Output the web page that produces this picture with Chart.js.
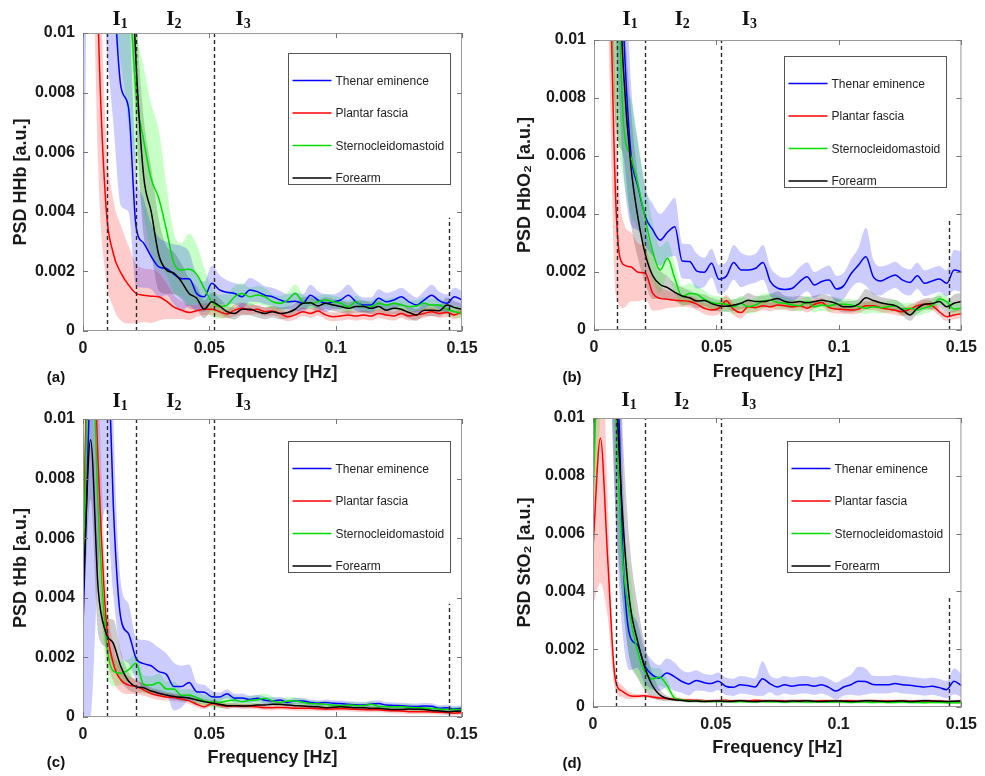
<!DOCTYPE html>
<html><head><meta charset="utf-8">
<script src="https://cdn.jsdelivr.net/npm/chart.js@4.4.1/dist/chart.umd.min.js"></script>
<style>
html,body{margin:0;padding:0;background:#fff;}
body{width:985px;height:776px;position:relative;overflow:hidden;}
canvas{position:absolute;}
</style></head><body>
<canvas id="pa" width="490" height="385" style="left:0;top:0"></canvas>
<canvas id="pb" width="495" height="385" style="left:490px;top:0"></canvas>
<canvas id="pc" width="490" height="391" style="left:0;top:385px"></canvas>
<canvas id="pd" width="495" height="391" style="left:490px;top:385px"></canvas>
<script>
// ---------- data (PSD values in units of 1e-3 a.u.) ----------
const UNIT = 1e-3;
const FREQ = [0,0.003,0.006,0.009,0.012,0.015,0.018,0.021,0.024,0.027,0.03,0.033,0.036,0.039,0.042,0.045,0.048,0.051,0.054,0.057,0.06,0.063,0.066,0.069,0.072,0.075,0.078,0.081,0.084,0.087,0.09,0.093,0.096,0.099,0.102,0.105,0.108,0.111,0.114,0.117,0.12,0.123,0.126,0.129,0.132,0.135,0.138,0.141,0.144,0.147,0.15];
const SERIES = ['Thenar eminence','Plantar fascia','Sternocleidomastoid','Forearm'];
const X_TICKS = [0,0.05,0.1,0.15];
const Y_TICKS = [0,0.002,0.004,0.006,0.008,0.01];
const VLINES = [0.0095,0.021,0.052,0.145];
const VLINE_TOP = [10,10,10,3.8];
const INTERVAL_NUM = ['1','2','3'];
const INTERVAL_FREQ = [0.0133,0.0346,0.062];

// (a) HHb
const HHB_THENAR = [20,40,30,18,12,8.2,7.5,3.5,2.95,2.5, 2.15,2.1,1.9,1.75,1.75,1.26,1.15,1.6,1.38,1.3, 1.26,1.15,1.38,1.32,1.2,1.15,1.04,0.98,1.0,0.93, 1.2,1.04,0.93,0.98,1.04,1.2,0.98,0.87,0.87,1.1, 0.98,1.04,1.15,0.98,0.87,1.04,1.2,1.02,0.93,1.15,1.04];
const HHB_THENAR_SD = [20,20,15,8,5,4,3.5,2,1.5,1.1, 1.0,0.9,1.0,1.1,0.9,0.6,0.5,0.6,0.5,0.4, 0.35,0.4,0.4,0.35,0.3,0.3,0.3,0.25,0.3,0.3, 0.35,0.3,0.3,0.25,0.3,0.35,0.3,0.25,0.25,0.3, 0.3,0.3,0.3,0.3,0.25,0.3,0.35,0.3,0.3,0.3,0.3];
const HHB_PLANTAR = [40,25,10.5,4.3,2.6,1.95,1.55,1.26,1.2,1.17, 1.15,1.0,0.8,0.7,0.62,0.68,0.73,0.73,0.65,0.57, 0.7,0.76,0.7,0.73,0.65,0.67,0.59,0.48,0.54,0.65, 0.59,0.67,0.54,0.48,0.5,0.54,0.5,0.54,0.5,0.59, 0.54,0.5,0.59,0.5,0.54,0.59,0.65,0.59,0.62,0.54,0.65];
const HHB_PLANTAR_SD = [10,8,5,2.5,1.8,1.6,1.3,1.0,0.9,0.9, 0.8,0.6,0.4,0.3,0.25,0.2,0.2,0.2,0.2,0.15, 0.2,0.2,0.15,0.15,0.15,0.15,0.15,0.15,0.15,0.15, 0.15,0.15,0.15,0.15,0.15,0.15,0.15,0.15,0.15,0.15, 0.15,0.15,0.15,0.15,0.15,0.15,0.15,0.15,0.15,0.15,0.15];
const HHB_STERNO = [30,30,25,20,18,15,12,8.0,6.4,5.1, 4.45,3.4,2.27,2.05,2.07,1.9,1.43,0.98,0.82,0.87, 1.15,1.26,1.15,1.21,1.15,0.98,0.93,1.04,1.26,0.98, 0.93,0.98,1.04,0.98,0.93,0.82,0.98,0.82,0.82,0.93, 0.87,0.93,0.87,0.82,0.84,0.93,0.87,0.87,0.73,0.65,0.59];
const HHB_STERNO_SD = [20,20,15,10,8,6,5,2.5,2.5,2.5, 2.3,1.5,1.0,0.9,1.2,1.0,0.7,0.5,0.4,0.4, 0.35,0.35,0.3,0.3,0.3,0.25,0.25,0.25,0.3,0.25, 0.2,0.2,0.2,0.2,0.2,0.2,0.2,0.2,0.2,0.2, 0.2,0.2,0.2,0.2,0.2,0.2,0.2,0.2,0.2,0.2,0.2];
const HHB_FOREARM = [30,30,28,25,22,18,15,9.0,5.2,4.0, 2.55,2.05,1.94,1.65,1.26,1.1,0.73,0.98,0.84,0.65, 0.59,0.73,0.73,0.65,0.59,0.65,0.59,0.62,0.73,0.93, 0.95,0.84,0.93,0.87,0.82,0.76,0.82,0.82,0.76,0.82, 0.7,0.76,0.73,0.62,0.54,0.7,0.7,0.68,0.87,0.79,0.73];
const HHB_FOREARM_SD = [15,15,12,10,8,6,4,2.0,2.0,1.5, 1.2,0.8,0.7,0.6,0.5,0.4,0.3,0.3,0.25,0.2, 0.2,0.2,0.2,0.2,0.2,0.2,0.2,0.2,0.2,0.2, 0.2,0.2,0.2,0.2,0.2,0.2,0.2,0.2,0.2,0.2, 0.2,0.2,0.2,0.2,0.2,0.2,0.2,0.2,0.25,0.2,0.2];

// (b) HbO2
const HBO2_THENAR = [40,40,30,18,10.5,6.15,4.94,3.9,3.45,3.1, 3.37,3.56,2.38,2.36,2.03,1.99,2.3,1.75,1.85,2.33, 2.07,2.07,2.13,2.33,1.67,1.44,1.4,1.44,1.67,1.84, 1.55,1.67,1.72,1.41,1.53,1.95,2.24,2.53,1.84,1.69, 1.8,1.9,1.72,1.64,1.87,1.61,1.69,1.76,1.61,2.07,2.01];
const HBO2_THENAR_SD = [20,20,15,8,5,2.5,1.5,1.0,0.9,0.9, 0.9,1.0,0.6,0.6,0.6,0.5,0.5,0.5,0.5,0.6, 0.6,0.5,0.5,0.6,0.5,0.45,0.4,0.45,0.5,0.5, 0.45,0.45,0.5,0.45,0.45,0.5,0.6,1.0,0.6,0.5, 0.45,0.45,0.45,0.45,0.45,0.45,0.45,0.45,0.45,0.7,0.7];
const HBO2_PLANTAR = [40,30,15,4.2,2.26,2.18,1.99,1.95,1.26,1.09, 1.06,1.03,1.01,0.98,0.89,0.75,0.69,0.75,1.01,0.71, 0.6,0.8,0.77,0.84,0.8,0.86,0.84,0.8,0.84,0.75, 0.89,0.95,0.77,0.72,0.71,0.69,0.72,0.84,0.84,0.77, 0.72,0.68,0.63,0.72,0.84,0.89,0.84,0.63,0.46,0.52,0.56];
const HBO2_PLANTAR_SD = [10,8,5,3,1.5,1.2,1.0,0.9,0.6,0.4, 0.3,0.25,0.2,0.2,0.2,0.2,0.2,0.2,0.2,0.2, 0.2,0.2,0.15,0.15,0.15,0.15,0.15,0.15,0.15,0.15, 0.15,0.15,0.15,0.15,0.15,0.15,0.15,0.15,0.15,0.15, 0.15,0.15,0.15,0.15,0.15,0.15,0.15,0.15,0.15,0.15,0.15];
const HBO2_STERNO = [30,30,25,15,7.2,6.0,5.0,3.8,2.7,2.07, 2.47,1.78,1.15,1.26,1.23,1.06,0.95,0.91,0.89,0.8, 0.92,0.8,0.86,1.0,1.03,0.95,0.92,0.86,0.84,0.98, 0.8,0.86,0.83,0.89,0.89,0.86,0.8,0.75,0.8,0.77, 0.8,0.84,0.72,0.75,0.69,0.77,0.84,1.07,0.98,0.72,0.75];
const HBO2_STERNO_SD = [20,20,15,8,2,2,1.5,1.2,1.0,0.8, 0.6,0.5,0.35,0.35,0.3,0.3,0.25,0.25,0.25,0.25, 0.25,0.25,0.25,0.25,0.25,0.25,0.2,0.2,0.2,0.2, 0.2,0.2,0.2,0.2,0.2,0.2,0.2,0.2,0.2,0.2, 0.2,0.2,0.2,0.2,0.2,0.2,0.2,0.2,0.2,0.2,0.2];
const HBO2_FOREARM = [30,30,25,15,9.0,5.7,3.85,2.59,1.87,1.57, 1.46,1.3,1.17,1.11,1.0,1.02,0.91,0.84,0.82,0.86, 0.92,1.03,0.98,0.98,1.03,1.09,0.98,0.95,0.98,0.94, 0.98,1.03,0.98,0.91,0.8,0.8,0.89,1.11,1.02,0.94, 0.89,0.84,0.69,0.52,0.75,0.89,0.91,0.98,0.8,0.92,0.98];
const HBO2_FOREARM_SD = [15,15,12,8,3,2,1.4,1.0,0.8,0.5, 0.4,0.3,0.3,0.25,0.25,0.2,0.2,0.2,0.2,0.2, 0.2,0.25,0.2,0.2,0.2,0.25,0.2,0.2,0.2,0.2, 0.2,0.2,0.2,0.2,0.2,0.2,0.2,0.3,0.25,0.2, 0.2,0.2,0.2,0.2,0.2,0.2,0.2,0.2,0.2,0.3,0.3];

// (c) tHb
const THB_THENAR = [3,12,20,15,7.1,3.3,2.8,1.97,1.79,1.72, 1.52,1.43,1.02,1.02,1.16,0.85,0.83,0.68,0.67,0.78, 0.63,0.64,0.59,0.63,0.56,0.54,0.57,0.49,0.54,0.54, 0.49,0.46,0.49,0.46,0.45,0.43,0.41,0.4,0.44,0.45, 0.4,0.39,0.38,0.36,0.35,0.37,0.36,0.29,0.31,0.27,0.29];
const THB_THENAR_SD = [3,12,15,8,3,1.2,1.0,0.7,0.8,0.8, 0.8,0.7,0.8,0.7,0.6,0.3,0.25,0.2,0.15,0.15, 0.15,0.15,0.12,0.12,0.12,0.12,0.1,0.1,0.1,0.1, 0.1,0.1,0.1,0.1,0.1,0.1,0.1,0.1,0.1,0.1, 0.1,0.1,0.1,0.1,0.1,0.1,0.1,0.1,0.1,0.1,0.1];
const THB_PLANTAR = [5.4,15,8.5,3.4,1.8,1.24,1.07,1.02,0.91,0.79, 0.72,0.67,0.65,0.6,0.54,0.43,0.34,0.45,0.4,0.36, 0.38,0.36,0.36,0.34,0.31,0.31,0.32,0.31,0.29,0.29, 0.29,0.28,0.27,0.27,0.28,0.27,0.26,0.25,0.24,0.24, 0.22,0.21,0.2,0.18,0.18,0.18,0.17,0.16,0.15,0.13,0.15];
const THB_PLANTAR_SD = [1,3,3,1.2,0.6,0.4,0.3,0.25,0.2,0.15, 0.15,0.12,0.12,0.1,0.1,0.1,0.08,0.08,0.08,0.08, 0.08,0.08,0.08,0.08,0.08,0.08,0.08,0.08,0.08,0.08, 0.08,0.08,0.08,0.08,0.08,0.08,0.08,0.08,0.08,0.08, 0.08,0.08,0.08,0.08,0.08,0.08,0.08,0.08,0.08,0.08,0.08];
const THB_STERNO = [4.2,14,7.0,2.75,1.54,1.47,1.58,1.8,1.1,1.07, 1.16,0.94,0.94,0.72,0.74,0.65,0.54,0.51,0.49,0.54, 0.57,0.51,0.56,0.58,0.63,0.54,0.49,0.54,0.54,0.49, 0.45,0.44,0.43,0.4,0.38,0.4,0.39,0.38,0.43,0.36, 0.35,0.34,0.34,0.33,0.31,0.3,0.29,0.27,0.25,0.25,0.25];
const THB_STERNO_SD = [1.5,3,2,1.0,0.5,0.4,0.35,0.3,0.3,0.3, 0.3,0.25,0.25,0.2,0.2,0.2,0.2,0.2,0.2,0.2, 0.15,0.15,0.15,0.15,0.15,0.15,0.12,0.12,0.12,0.12, 0.1,0.1,0.1,0.1,0.1,0.1,0.1,0.1,0.1,0.1, 0.1,0.1,0.1,0.1,0.1,0.1,0.1,0.1,0.1,0.1,0.1];
const THB_FOREARM = [4.0,9.3,4.3,2.84,2.47,1.69,1.21,1.02,0.98,0.87, 0.8,0.74,0.69,0.66,0.64,0.57,0.51,0.47,0.43,0.38, 0.38,0.37,0.38,0.4,0.4,0.43,0.43,0.4,0.38,0.37, 0.35,0.34,0.31,0.33,0.34,0.33,0.31,0.31,0.29,0.29, 0.27,0.25,0.25,0.27,0.26,0.25,0.22,0.2,0.18,0.19,0.2];
const THB_FOREARM_SD = [1.5,2,1.5,0.5,0.8,0.5,0.3,0.2,0.15,0.12, 0.12,0.1,0.1,0.1,0.1,0.1,0.1,0.1,0.1,0.1, 0.08,0.08,0.08,0.08,0.08,0.08,0.08,0.08,0.08,0.08, 0.08,0.08,0.08,0.08,0.08,0.08,0.08,0.08,0.08,0.08, 0.08,0.08,0.08,0.08,0.08,0.08,0.08,0.08,0.08,0.08,0.08];

// (d) StO2
const STO2_THENAR = [30,40,30,15,5.6,2.47,2.16,1.43,1.12,1.0, 1.18,1.06,0.89,0.8,0.92,0.85,0.81,0.89,0.72,0.68, 0.77,0.74,0.69,0.98,0.81,0.69,0.77,0.72,0.76,0.77, 0.72,0.77,0.68,0.55,0.69,0.77,0.89,0.88,0.78,0.77, 0.77,0.81,0.77,0.75,0.72,0.69,0.72,0.67,0.6,0.89,0.74];
const STO2_THENAR_SD = [10,20,15,8,3,1.2,0.8,0.6,0.5,0.45, 0.5,0.5,0.4,0.4,0.35,0.3,0.3,0.3,0.3,0.3, 0.3,0.3,0.3,0.6,0.3,0.3,0.3,0.3,0.3,0.3, 0.3,0.3,0.3,0.3,0.3,0.35,0.5,0.45,0.3,0.3, 0.3,0.3,0.3,0.3,0.3,0.3,0.3,0.3,0.3,0.45,0.4];
const STO2_PLANTAR = [5.5,9.3,5.1,1.0,0.54,0.39,0.37,0.39,0.35,0.31, 0.29,0.28,0.25,0.24,0.23,0.22,0.21,0.22,0.23,0.21, 0.22,0.21,0.23,0.22,0.21,0.22,0.21,0.2,0.22,0.21, 0.2,0.22,0.21,0.2,0.21,0.22,0.2,0.21,0.22,0.2, 0.21,0.2,0.21,0.2,0.2,0.21,0.19,0.2,0.18,0.17,0.17];
const STO2_PLANTAR_SD = [2,5,2,0.4,0.2,0.12,0.08,0.08,0.06,0.05, 0.05,0.05,0.05,0.05,0.05,0.05,0.05,0.05,0.05,0.05, 0.05,0.05,0.05,0.05,0.05,0.05,0.05,0.05,0.05,0.05, 0.05,0.05,0.05,0.05,0.05,0.05,0.05,0.05,0.05,0.05, 0.05,0.05,0.05,0.05,0.05,0.05,0.05,0.05,0.05,0.05,0.05];
const STO2_STERNO = [7.2,15,20,11,5.2,3.2,1.98,1.23,0.97,1.04, 0.77,0.33,0.25,0.22,0.21,0.2,0.19,0.19,0.2,0.18, 0.19,0.18,0.18,0.19,0.18,0.18,0.17,0.18,0.18,0.17, 0.17,0.18,0.17,0.17,0.17,0.16,0.17,0.17,0.16,0.17, 0.16,0.16,0.17,0.16,0.16,0.15,0.16,0.16,0.15,0.15,0.15];
const STO2_STERNO_SD = [1,5,5,3,1.5,1.5,0.9,0.6,0.4,0.3, 0.2,0.1,0.05,0.05,0.05,0.05,0.05,0.05,0.05,0.05, 0.05,0.05,0.05,0.05,0.05,0.05,0.05,0.05,0.05,0.05, 0.05,0.05,0.05,0.05,0.05,0.05,0.05,0.05,0.05,0.05, 0.05,0.05,0.05,0.05,0.05,0.05,0.05,0.05,0.05,0.05,0.05];
const STO2_FOREARM = [8.4,25,20,12,6.7,3.6,2.33,1.4,0.77,0.43, 0.3,0.25,0.23,0.2,0.21,0.19,0.2,0.21,0.19,0.2, 0.22,0.2,0.19,0.2,0.21,0.2,0.19,0.21,0.2,0.22, 0.2,0.19,0.2,0.21,0.2,0.19,0.2,0.22,0.21,0.2, 0.19,0.2,0.21,0.19,0.2,0.22,0.21,0.2,0.19,0.2,0.21];
const STO2_FOREARM_SD = [2,8,6,5,3,2,1.3,0.8,0.45,0.2, 0.1,0.05,0.05,0.05,0.05,0.05,0.05,0.05,0.05,0.05, 0.05,0.05,0.05,0.05,0.05,0.05,0.05,0.05,0.05,0.05, 0.05,0.05,0.05,0.05,0.05,0.05,0.05,0.05,0.05,0.05, 0.05,0.05,0.05,0.05,0.05,0.05,0.05,0.05,0.05,0.05,0.05];

// ---------- styles & layout ----------
const FONT = '"Liberation Sans", Arial, sans-serif';
const SERIF = '"Liberation Serif", "Times New Roman", serif';
const LINE_COLORS = ['#0000ff','#ff0000','#00dd00','#000000'];
const BAND_COLORS = ['rgba(0,0,255,0.2)','rgba(255,0,0,0.2)','rgba(0,255,0,0.22)','rgba(0,0,0,0.2)'];

const PANELS = [
  {canvas:'pa', ylabel:'PSD HHb [a.u.]', letter:'(a)',
   means:[HHB_THENAR,HHB_PLANTAR,HHB_STERNO,HHB_FOREARM], sds:[HHB_THENAR_SD,HHB_PLANTAR_SD,HHB_STERNO_SD,HHB_FOREARM_SD],
   pad:{top:33,right:28}, yW:83, xH:54, xTitlePad:1.2, yTitlePad:10.2, labelY:25, legend:{dx:12,dy:20}, letterPos:[56,378]},
  {canvas:'pb', ylabel:'PSD HbO\u2082 [a.u.]', letter:'(b)',
   means:[HBO2_THENAR,HBO2_PLANTAR,HBO2_STERNO,HBO2_FOREARM], sds:[HBO2_THENAR_SD,HBO2_PLANTAR_SD,HBO2_STERNO_SD,HBO2_FOREARM_SD],
   pad:{top:40,right:17}, yW:104, xH:55, xTitlePad:2.2, yTitlePad:24.2, labelY:25, legend:{dx:15,dy:16}, letterPos:[82,378]},
  {canvas:'pc', ylabel:'PSD tHb [a.u.]', letter:'(c)',
   means:[THB_THENAR,THB_PLANTAR,THB_STERNO,THB_FOREARM], sds:[THB_THENAR_SD,THB_PLANTAR_SD,THB_STERNO_SD,THB_FOREARM_SD],
   pad:{top:34,right:28}, yW:83, xH:59, xTitlePad:7.2, yTitlePad:10.2, labelY:22, legend:{dx:12,dy:22}, letterPos:[56,378]},
  {canvas:'pd', ylabel:'PSD StO\u2082 [a.u.]', letter:'(d)',
   means:[STO2_THENAR,STO2_PLANTAR,STO2_STERNO,STO2_FOREARM], sds:[STO2_THENAR_SD,STO2_PLANTAR_SD,STO2_STERNO_SD,STO2_FOREARM_SD],
   pad:{top:33,right:20}, yW:103, xH:69, xTitlePad:17.2, yTitlePad:24.2, labelY:21, legend:{dx:12,dy:23}, letterPos:[82,379]}
];

function fmt(v){ return v === 0 ? '0' : String(parseFloat(Number(v).toFixed(4))); }

function buildDatasets(means, sds){
  const ds = [];
  means.forEach((m,i)=>{
    const sd = sds[i];
    const base = ds.length;
    ds.push({label:SERIES[i]+' +sd', data:FREQ.map((f,j)=>({x:f,y:(m[j]+sd[j])*UNIT})),
      borderColor:'rgba(0,0,0,0)', borderWidth:0, pointRadius:0, fill:false, order:10});
    ds.push({label:SERIES[i]+' -sd', data:FREQ.map((f,j)=>({x:f,y:(m[j]-sd[j])*UNIT})),
      borderColor:'rgba(0,0,0,0)', borderWidth:0, pointRadius:0, fill:base, backgroundColor:BAND_COLORS[i], order:10});
  });
  means.forEach((m,i)=>{
    ds.push({label:SERIES[i], data:FREQ.map((f,j)=>({x:f,y:m[j]*UNIT})),
      borderColor:LINE_COLORS[i], borderWidth:1.5, pointRadius:0, fill:false, order:4-i});
  });
  return ds;
}

const decor = {
  id:'decor',
  afterDraw(chart){
    const P = chart.config.options.plugins.decor;
    const {ctx, chartArea:a, scales:{x,y}} = chart;
    ctx.save();
    // dashed interval lines
    ctx.strokeStyle = '#2b2b2b'; ctx.lineWidth = 1.4; ctx.setLineDash([4,3]);
    VLINES.forEach((f,i)=>{
      const px = Math.round(x.getPixelForValue(f)) + 0.5;
      const top = y.getPixelForValue(VLINE_TOP[i]*UNIT);
      ctx.beginPath(); ctx.moveTo(px, a.bottom); ctx.lineTo(px, top); ctx.stroke();
    });
    ctx.setLineDash([]);
    // frame
    ctx.strokeStyle = '#9a9a9a'; ctx.lineWidth = 1;
    ctx.strokeRect(a.left+0.5, a.top+0.5, a.right-a.left-1, a.bottom-a.top-1);
    // inward ticks
    ctx.strokeStyle = '#777'; ctx.beginPath();
    Y_TICKS.forEach(v=>{ const py = Math.round(y.getPixelForValue(v))+0.5;
      ctx.moveTo(a.left, py); ctx.lineTo(a.left+5, py); ctx.moveTo(a.right, py); ctx.lineTo(a.right-5, py); });
    X_TICKS.forEach(v=>{ const px = Math.round(x.getPixelForValue(v))+0.5;
      ctx.moveTo(px, a.bottom); ctx.lineTo(px, a.bottom-5); ctx.moveTo(px, a.top); ctx.lineTo(px, a.top+5); });
    ctx.stroke();
    // legend box
    const lw = 162, lh = 131;
    const lx = Math.round(a.right - P.legend.dx - lw) + 0.5, ly = Math.round(a.top + P.legend.dy) + 0.5;
    ctx.fillStyle = '#fff'; ctx.fillRect(lx, ly, lw, lh);
    ctx.strokeStyle = '#555'; ctx.lineWidth = 1; ctx.strokeRect(lx, ly, lw, lh);
    ctx.font = '12px ' + FONT; ctx.textAlign = 'left'; ctx.textBaseline = 'middle';
    SERIES.forEach((s,i)=>{
      const yy = ly + 27 + i*32.5;
      ctx.strokeStyle = LINE_COLORS[i]; ctx.lineWidth = 1.5;
      ctx.beginPath(); ctx.moveTo(lx+4, yy); ctx.lineTo(lx+43, yy); ctx.stroke();
      ctx.fillStyle = '#222'; ctx.fillText(s, lx+47, yy+1);
    });
    // interval labels I1, I2, I3
    ctx.fillStyle = '#111'; ctx.textBaseline = 'alphabetic';
    INTERVAL_FREQ.forEach((f,i)=>{
      const cx = x.getPixelForValue(f);
      ctx.font = 'bold 21px ' + SERIF; ctx.textAlign = 'center';
      ctx.fillText('I', cx, P.labelY);
      const w = ctx.measureText('I').width;
      ctx.font = 'bold 14px ' + SERIF; ctx.textAlign = 'left';
      ctx.fillText(INTERVAL_NUM[i], cx + w/2, P.labelY + 3);
    });
    // panel letter
    ctx.font = 'bold 15px ' + FONT; ctx.textAlign = 'center'; ctx.textBaseline = 'middle'; ctx.fillStyle = '#111';
    ctx.fillText(P.letter, P.letterPos[0], P.letterPos[1]);
    ctx.restore();
  }
};

PANELS.forEach(P=>{
  const tickFont = {family:FONT, size:16, weight:'bold'};
  const titleFont = {family:FONT, size:18, weight:'bold'};
  new Chart(document.getElementById(P.canvas), {
    type:'line',
    data:{datasets:buildDatasets(P.means, P.sds)},
    options:{
      responsive:false, animation:false, events:[],
      layout:{padding:{left:0, top:P.pad.top, right:P.pad.right, bottom:0}},
      elements:{line:{cubicInterpolationMode:'monotone'}, point:{radius:0}},
      plugins:{legend:{display:false}, tooltip:{enabled:false},
        decor:{legend:P.legend, labelY:P.labelY, letter:P.letter, letterPos:P.letterPos}},
      scales:{
        x:{type:'linear', min:0, max:0.15,
          grid:{display:false, drawTicks:false}, border:{display:false},
          afterBuildTicks:s=>{ s.ticks = X_TICKS.map(v=>({value:v})); },
          ticks:{padding:8, font:tickFont, color:'#1a1a1a', maxRotation:0, autoSkip:false, callback:v=>fmt(v)},
          title:{display:true, text:'Frequency [Hz]', font:titleFont, color:'#1a1a1a', padding:{top:0, bottom:P.xTitlePad}},
          afterFit:s=>{ s.height = P.xH; }},
        y:{type:'linear', min:0, max:0.01,
          grid:{display:false, drawTicks:false}, border:{display:false},
          afterBuildTicks:s=>{ s.ticks = Y_TICKS.map(v=>({value:v})); },
          ticks:{padding:8, font:tickFont, color:'#1a1a1a', autoSkip:false, callback:v=>fmt(v)},
          title:{display:true, text:P.ylabel, font:titleFont, color:'#1a1a1a', padding:{top:P.yTitlePad, bottom:0}},
          afterFit:s=>{ s.width = P.yW; }}
      }
    },
    plugins:[decor]
  });
});
</script>
</body></html>
